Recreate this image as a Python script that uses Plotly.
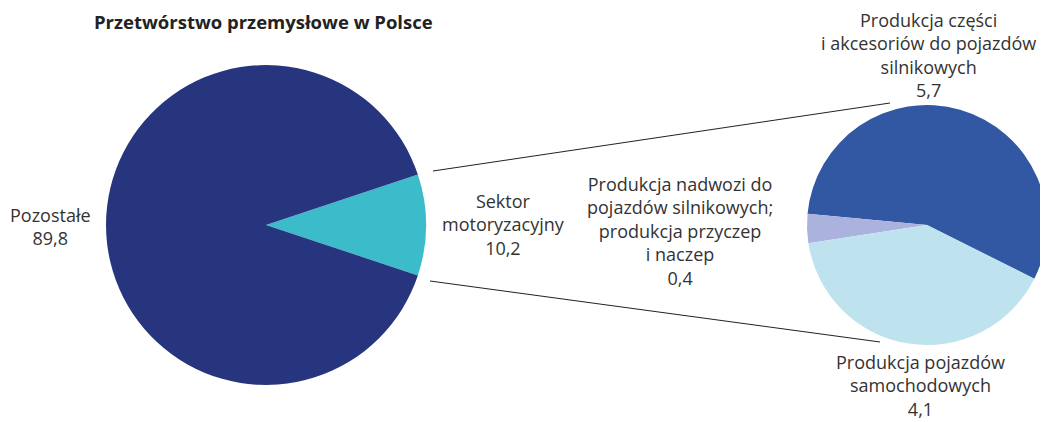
import plotly.graph_objects as go

# Dane: przetwórstwo przemysłowe w Polsce (udział, %)
glowne_etykiety = ["Sektor motoryzacyjny", "Pozostałe"]
glowne_wartosci = [10.2, 89.8]
glowne_kolory = ["#3cbbcb", "#27357e"]

moto_etykiety = [
    "Produkcja części i akcesoriów do pojazdów silnikowych",
    "Produkcja nadwozi do pojazdów silnikowych; produkcja przyczep i naczep",
    "Produkcja pojazdów samochodowych",
]
moto_wartosci = [5.7, 0.4, 4.1]
moto_kolory = ["#3257a3", "#acb2de", "#bee3ee"]

OFF = 8  # margines body strony html
W, H = 1048 - OFF, 422 - OFF
FONT = "Open Sans"
KOLOR_TEKSTU = "#333333"


def px_x(x):
    return (x - OFF) / W


def px_y(y):
    return 1 - (y - OFF) / H


def fmt(v):
    return f"{v:.1f}".replace(".", ",")


fig = go.Figure()

# Lewy wykres - cały przemysł, wycinek motoryzacyjny skierowany w prawo
# (w plotly pierwszy wycinek zajmuje kąty [rotation, rotation + kąt] liczone zgodnie ze wskazówkami od 12:00)
kat_moto = glowne_wartosci[0] / sum(glowne_wartosci) * 360
fig.add_trace(go.Pie(
    labels=glowne_etykiety,
    values=glowne_wartosci,
    marker=dict(colors=glowne_kolory, line=dict(width=0)),
    sort=False,
    direction="counterclockwise",
    rotation=90 - kat_moto / 2,
    textinfo="none",
    domain=dict(x=[px_x(106), px_x(426)], y=[px_y(385), px_y(65)]),
    showlegend=False,
))

# Prawy wykres - rozbicie sektora motoryzacyjnego
kat_czesci = moto_wartosci[0] / sum(moto_wartosci) * 360
fig.add_trace(go.Pie(
    labels=moto_etykiety,
    values=moto_wartosci,
    marker=dict(colors=moto_kolory, line=dict(width=0)),
    sort=False,
    direction="counterclockwise",
    rotation=90 - (-26.6 + kat_czesci),
    textinfo="none",
    domain=dict(x=[px_x(807), px_x(1047)], y=[px_y(345), px_y(105)]),
    showlegend=False,
))

# Linie łączące
for x0, y0, x1, y1 in [(433, 171, 890, 103), (430, 281, 880, 342)]:
    fig.add_shape(type="line", xref="paper", yref="paper",
                  x0=px_x(x0), y0=px_y(y0), x1=px_x(x1), y1=px_y(y1),
                  line=dict(color="#222222", width=1))

# Podpisy
podpisy = [
    ("Pozostałe<br>" + fmt(glowne_wartosci[1]), 50, 226),
    ("Sektor<br>motoryzacyjny<br>" + fmt(glowne_wartosci[0]), 503, 224),
    ("Produkcja nadwozi do<br>pojazdów silnikowych;<br>produkcja przyczep<br>i naczep<br>"
     + fmt(moto_wartosci[1]), 680, 231),
    ("Produkcja części<br>i akcesoriów do pojazdów<br>silnikowych<br>" + fmt(moto_wartosci[0]), 928, 55),
    ("Produkcja pojazdów<br>samochodowych<br>" + fmt(moto_wartosci[2]), 920, 385),
]
for tekst, x, y in podpisy:
    fig.add_annotation(text=tekst, xref="paper", yref="paper", x=px_x(x), y=px_y(y),
                       xanchor="center", yanchor="middle", showarrow=False, align="center",
                       font=dict(family=FONT, size=18, color=KOLOR_TEKSTU))

fig.add_annotation(text="<b>Przetwórstwo przemysłowe w Polsce</b>", xref="paper", yref="paper",
                   x=px_x(263), y=px_y(21), xanchor="center", yanchor="middle", showarrow=False,
                   font=dict(family=FONT, size=18.5, color="#222222"))

fig.update_layout(
    width=W, height=H,
    margin=dict(l=0, r=0, t=0, b=0),
    paper_bgcolor="white",
    plot_bgcolor="white",
    font=dict(family=FONT, color=KOLOR_TEKSTU),
)

fig.write_html("out.html")
